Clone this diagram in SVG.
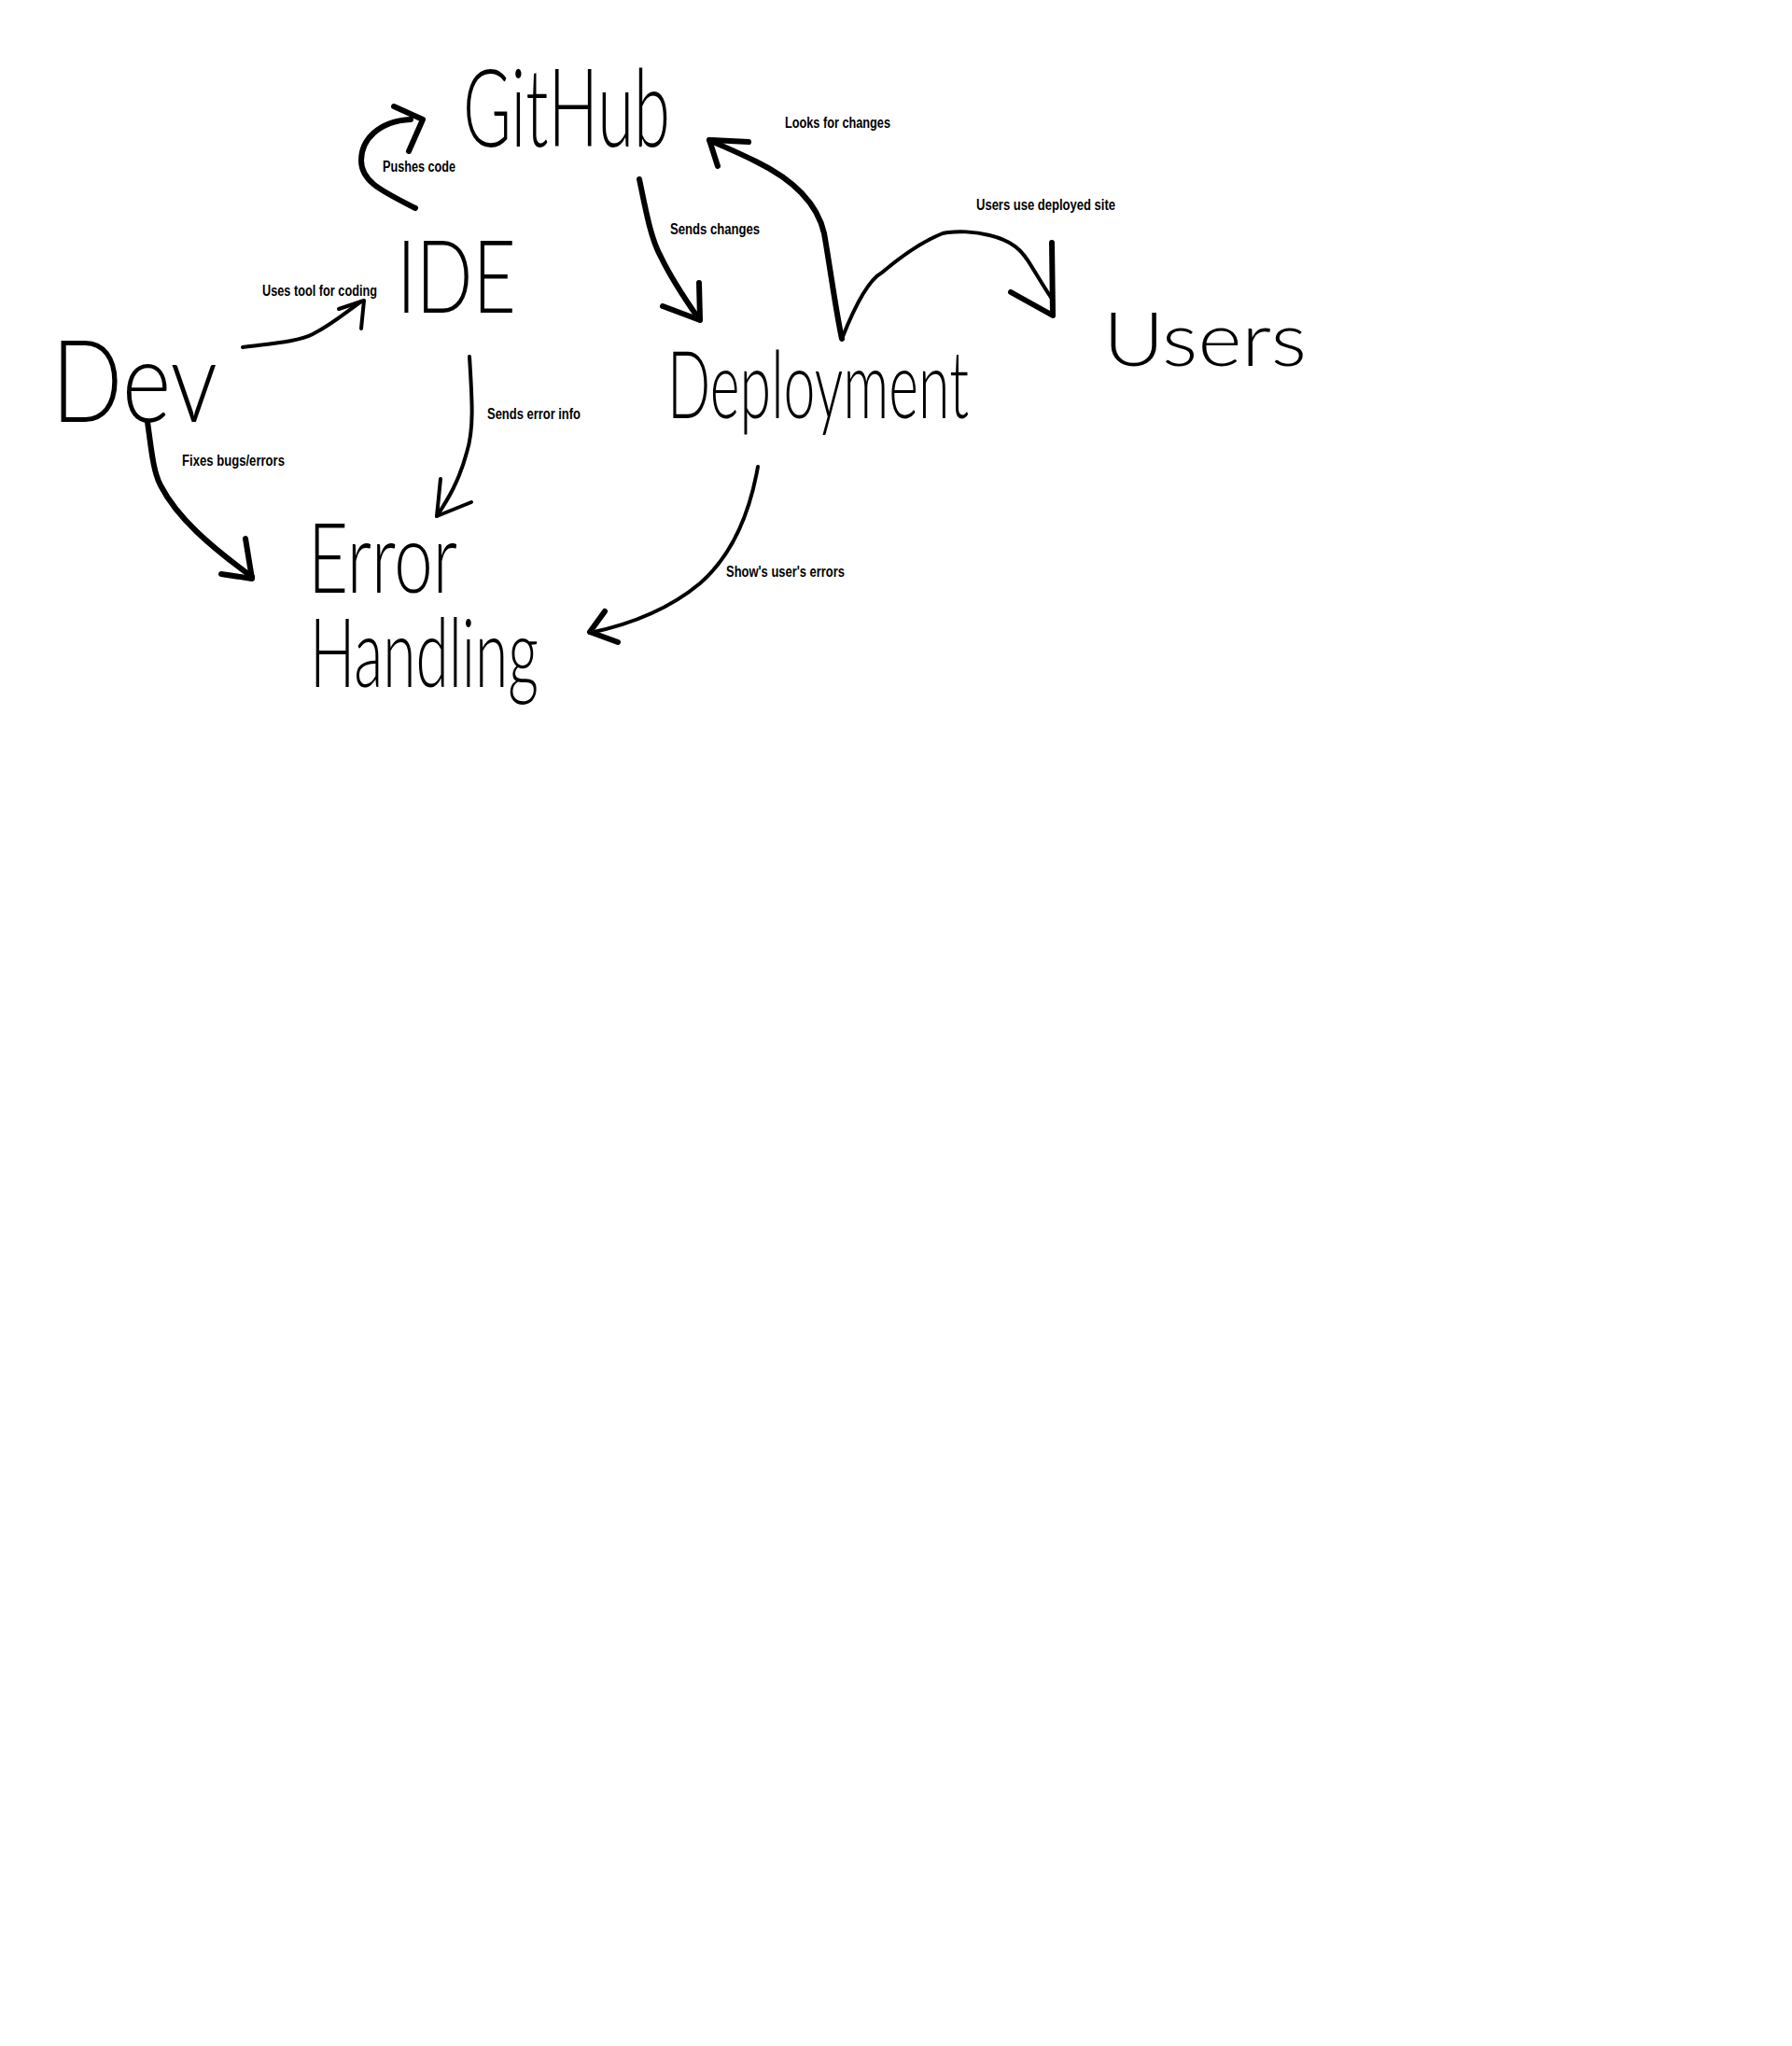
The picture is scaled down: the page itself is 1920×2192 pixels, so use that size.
<svg xmlns="http://www.w3.org/2000/svg" width="1920" height="2192" viewBox="0 0 1920 2192">
<style>
.bg{fill:#ffffff}
.node{font-family:Lato,"Open Sans","DejaVu Sans",sans-serif;font-weight:300;fill:#000}
.lbl{font-family:"Liberation Sans Narrow","Liberation Sans",Arial,sans-serif;font-weight:bold;font-size:16px;fill:#000}
.con{fill:none;stroke:#000;stroke-width:6;stroke-linecap:round;stroke-linejoin:round}
.thin{stroke-width:4}
</style>
<rect class="bg" x="0" y="0" width="1920" height="2192"/>
<g id="connectors">
  <g id="c-pushes">
    <path class="con" d="M445,223 C410,205 387,195 387,172 C387,150 405,130 440,128"/>
    <path class="con" d="M422,114 L453,128 L438,162"/>
  </g>
  <g id="c-uses">
    <path class="con thin" d="M260,372 C290,368 320,366 335,358 C355,348 370,335 387,323"/>
    <path class="con thin" d="M363,331 L390,322 L387,352"/>
  </g>
  <g id="c-senderr">
    <path class="con thin" d="M503,382 C506,430 508,460 500,485 C492,515 480,535 468,553"/>
    <path class="con thin" d="M472,513 L468,553 L505,538"/>
  </g>
  <g id="c-fixes">
    <path class="con" d="M158,452 C162,480 164,505 172,520 C190,555 225,585 270,618"/>
    <path class="con" d="M263,577 L270,620 L237,615"/>
  </g>
  <g id="c-sendchg">
    <path class="con" d="M685,192 C692,225 697,255 708,275 C720,300 735,322 749,342"/>
    <path class="con" d="M749,303 L750,343 L710,328"/>
  </g>
  <g id="c-looks">
    <path class="con" d="M902,363 C895,330 890,290 883,250 C875,215 845,190 810,173 C790,163 775,157 760,150"/>
    <path class="con" d="M802,152 L760,150 L769,178"/>
  </g>
  <g id="c-usersuse">
    <path class="con thin" d="M902,363 C915,330 930,300 945,292 C965,275 985,260 1010,250 C1025,247 1045,248 1060,252 C1085,258 1095,268 1105,285 C1113,298 1120,310 1127,320"/>
    <path class="con" d="M1127,260 L1128,338 L1083,313"/>
  </g>
  <g id="c-shows">
    <path class="con thin" d="M812,500 C805,540 790,590 750,625 C720,650 680,668 632,678"/>
    <path class="con" d="M648,655 L632,677 L662,688"/>
  </g>
  <text class="lbl" x="410" y="184" textLength="78" lengthAdjust="spacingAndGlyphs">Pushes code</text>
  <text class="lbl" x="841" y="137" textLength="113" lengthAdjust="spacingAndGlyphs">Looks for changes</text>
  <text class="lbl" x="1046" y="225" textLength="149" lengthAdjust="spacingAndGlyphs">Users use deployed site</text>
  <text class="lbl" x="718" y="251" textLength="96" lengthAdjust="spacingAndGlyphs">Sends changes</text>
  <text class="lbl" x="281" y="317" textLength="123" lengthAdjust="spacingAndGlyphs">Uses tool for coding</text>
  <text class="lbl" x="522" y="449" textLength="100" lengthAdjust="spacingAndGlyphs">Sends error info</text>
  <text class="lbl" x="195" y="499" textLength="110" lengthAdjust="spacingAndGlyphs">Fixes bugs/errors</text>
  <text class="lbl" x="778" y="618" textLength="127" lengthAdjust="spacingAndGlyphs">Show's user's errors</text>
</g>
<g id="node-github"><text class="node" transform="translate(496,157) scale(1,1.64)" x="0" y="0" font-size="71" textLength="222" lengthAdjust="spacingAndGlyphs">GitHub</text></g>
<g id="node-ide"><text class="node" transform="translate(425,335) scale(1,1.32)" x="0" y="0" font-size="82" textLength="128" lengthAdjust="spacingAndGlyphs">IDE</text></g>
<g id="node-dev"><text class="node" transform="translate(55,452) scale(1,1.2)" x="0" y="0" font-size="102" textLength="178" lengthAdjust="spacingAndGlyphs">Dev</text></g>
<g id="node-deployment"><text class="node" transform="translate(715,448) scale(1,1.69)" x="0" y="0" font-size="60" textLength="323" lengthAdjust="spacingAndGlyphs">Deployment</text></g>
<g id="node-users"><text class="node" transform="translate(1182,392) scale(1,0.9)" x="0" y="0" font-size="90" textLength="218" lengthAdjust="spacingAndGlyphs">Users</text></g>
<g id="node-error">
  <text class="node" transform="translate(330,635) scale(1,1.45)" x="0" y="0" font-size="72" textLength="160" lengthAdjust="spacingAndGlyphs">Error</text>
  <text class="node" transform="translate(332,736) scale(1,1.66)" x="0" y="0" font-size="62" textLength="245" lengthAdjust="spacingAndGlyphs">Handling</text>
</g>
</svg>
